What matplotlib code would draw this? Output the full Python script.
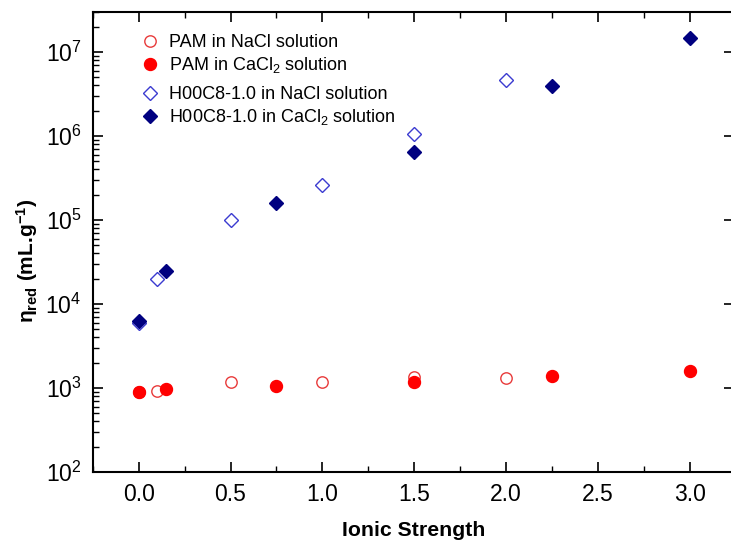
import matplotlib
matplotlib.use("Agg")
import matplotlib.pyplot as plt
from matplotlib.ticker import LogLocator, MultipleLocator, NullFormatter

plt.rcParams['font.family'] = ['Liberation Sans', 'DejaVu Sans']
plt.rcParams['mathtext.fontset'] = 'custom'
plt.rcParams['mathtext.rm'] = 'Liberation Sans'
plt.rcParams['mathtext.it'] = 'Liberation Sans'
plt.rcParams['mathtext.bf'] = 'Liberation Sans:bold'

# Data
pam_nacl_x = [0.0, 0.1, 0.5, 1.0, 1.5, 2.0]
pam_nacl_y = [890, 930, 1190, 1170, 1360, 1315]
pam_cacl_x = [0.0, 0.15, 0.75, 1.5, 2.25, 3.0]
pam_cacl_y = [890, 975, 1065, 1190, 1400, 1590]
h_nacl_x = [0.0, 0.1, 0.5, 1.0, 1.5, 2.0]
h_nacl_y = [5900, 2.0e4, 1.0e5, 2.6e5, 1.06e6, 4.7e6]
h_cacl_x = [0.0, 0.15, 0.75, 1.5, 2.25, 3.0]
h_cacl_y = [6300, 2.47e4, 1.6e5, 6.5e5, 3.97e6, 1.48e7]

labels = ['PAM in NaCl solution', 'PAM in CaCl$_2$ solution',
          'H00C8-1.0 in NaCl solution', 'H00C8-1.0 in CaCl$_2$ solution']

fig = plt.figure(figsize=(7.31, 5.42), dpi=100)
ax = fig.add_axes([92.7/731, 70/542, (734-92.7)/731, 460/542])

l1, = ax.plot(pam_nacl_x, pam_nacl_y, 'o', ms=8.2, mfc='none', mec='#E83a3a', mew=1.0,
              label=labels[0], linestyle='none')
l2, = ax.plot(pam_cacl_x, pam_cacl_y, 'o', ms=8.6, mfc='#FF0000', mec='#FF0000',
              label=labels[1], linestyle='none')
l3, = ax.plot(h_nacl_x, h_nacl_y, 'D', ms=7.5, mfc='none', mec='#3b3bd0', mew=1.0,
              label=labels[2], linestyle='none')
l4, = ax.plot(h_cacl_x, h_cacl_y, 'D', ms=7.5, mfc='#000080', mec='#000080',
              label=labels[3], linestyle='none')

ax.set_yscale('log')
ax.set_ylim(100, 3e7)
ax.set_xlim(-0.25, 3.24)

ax.xaxis.set_major_locator(MultipleLocator(0.5))
ax.xaxis.set_minor_locator(MultipleLocator(0.25))
ax.xaxis.set_major_formatter(matplotlib.ticker.FormatStrFormatter('%.1f'))
ax.yaxis.set_major_locator(LogLocator(base=10, numticks=20))
ax.yaxis.set_minor_locator(LogLocator(base=10, subs=range(2, 10), numticks=20))
ax.yaxis.set_minor_formatter(NullFormatter())

ax.tick_params(axis='both', which='major', direction='in', length=7, width=1.2,
               labelsize=16.5, top=True, right=True, pad=8)
ax.tick_params(axis='both', which='minor', direction='in', length=4, width=1.0,
               top=True, right=True)
ax.tick_params(axis='y', which='minor', right=False)
for s in ax.spines.values():
    s.set_linewidth(1.5)
ax.spines['right'].set_visible(False)

ax.set_xlabel('Ionic Strength', fontsize=15.3, fontweight='bold', labelpad=11)
ax.set_ylabel('η$_{\\mathbf{red}}$ (mL.g$^{\\mathbf{-1}}$)', fontsize=15,
              fontweight='bold')
ax.yaxis.set_label_coords(-0.082, 0.46)

leg_kw = dict(loc='upper left', frameon=False, fontsize=13, handletextpad=0.45,
              labelspacing=0.2, borderaxespad=0.2, handlelength=1.2)
leg1 = ax.legend(handles=[l1, l2], bbox_to_anchor=(0.055, 0.975), **leg_kw)
ax.add_artist(leg1)
ax.legend(handles=[l3, l4], bbox_to_anchor=(0.055, 0.862), **leg_kw)

fig.savefig('out.png', dpi=100)
